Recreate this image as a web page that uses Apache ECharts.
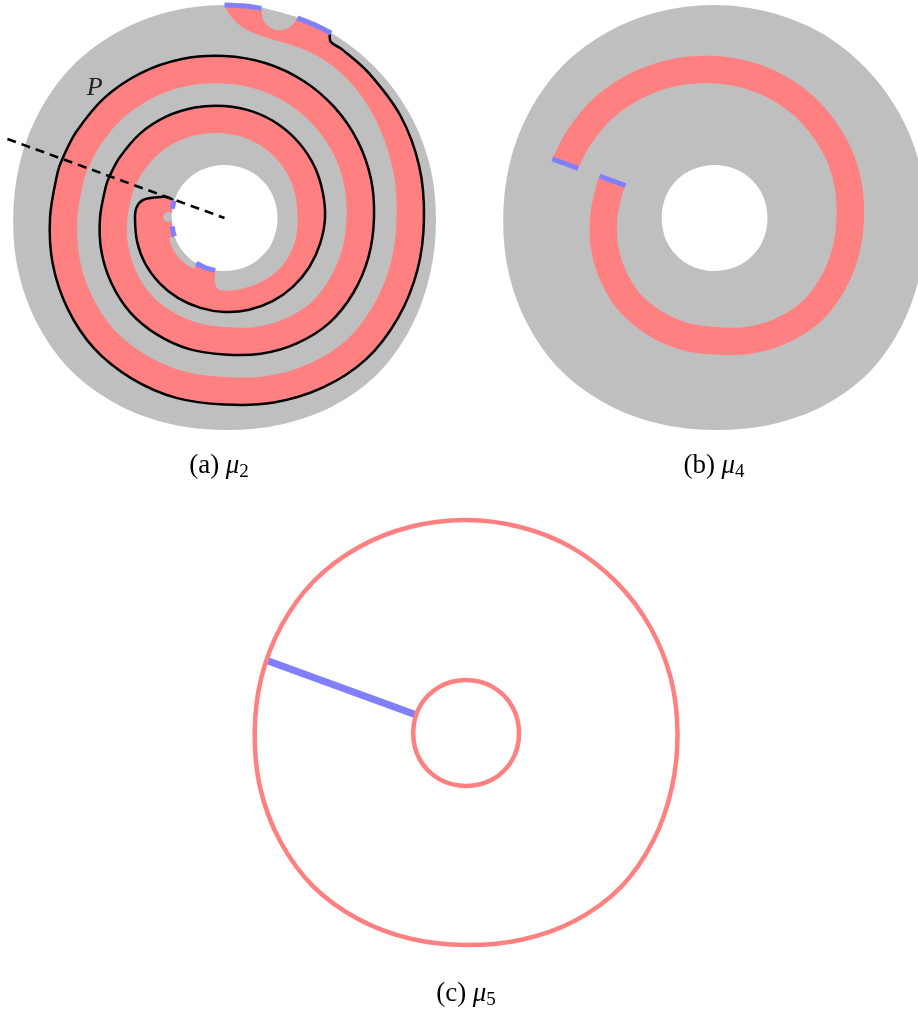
<!DOCTYPE html>
<html>
<head>
<meta charset="utf-8">
<title>Measures on a spiral strip</title>
<script src="https://cdn.jsdelivr.net/npm/echarts@6.0.0/dist/echarts.min.js"></script>
<style>
html, body { margin: 0; padding: 0; background: #ffffff; }
#chart { width: 918px; height: 1010px; }
</style>
</head>
<body>
<div id="chart"></div>
<script>
// Every shape is given as polar readings [angle, radius]; the angle is in degrees,
// measured clockwise on screen from the +x direction. Along the strip the angle is
// unwrapped, so it keeps counting past 360 as the spiral winds inwards.

// Outer rim of the annular domain
const rimAngles = [0, 15, 30, 45, 60, 75, 90, 105, 120, 135, 150, 165, 180, 195, 210, 225, 240, 255, 270, 285, 300, 315, 330, 345];
const rimRadii  = [211.5, 213, 216, 218.5, 217, 214, 212, 213, 215, 216.5, 215, 213, 211.3, 212, 213.5, 215, 214.5, 213.5, 213, 213, 213.5, 213, 212.5, 212];

// Inner hole of the domain
const holeAngles = [0, 30, 60, 90, 120, 150, 180, 210, 240, 270, 300, 330];
const holeRadii  = [53, 53.5, 53.5, 53, 53.3, 53.3, 52.8, 53.3, 53.3, 53, 53.3, 53.3];

// Outer edge of the red strip (the black curve in (a)): hook at the rim, spiral, curl into the hole
const stripEdge = [
  [-60.5, 214], [-59, 206], [-55, 205.5], [-45, 204.5], [-30, 203.5], [-15, 201.5], [0, 199.5],
  [15, 199.8], [30, 200.2], [45, 200], [60, 196], [75, 191], [90, 186.5],
  [105, 186.2], [120, 185.4], [135, 184.4], [150, 181.2], [165, 177.8], [180, 174.5],
  [195, 173], [200, 172.6], [210, 171.5], [225, 169.9], [240, 167.3], [255, 164.6], [270, 162],
  [285, 160.2], [300, 158.2], [315, 156], [330, 153.8], [345, 151.6], [360, 149.5],
  [375, 149.2], [390, 149], [405, 148.3], [420, 144.7], [435, 140.5], [450, 136.5],
  [465, 135.8], [480, 134.7], [495, 133.4], [510, 130.5], [525, 127.5], [540, 124.5],
  [555, 122.8], [560, 122.3], [570, 121.1], [585, 119.4], [600, 117], [615, 114.4], [630, 112],
  [645, 110.1], [660, 108], [675, 105.8], [690, 103.7], [705, 101.6], [720, 100.5],
  [735, 99], [750, 98], [765, 97], [780, 96], [795, 95], [810, 94],
  [825, 93], [840, 92.5], [855, 92], [870, 91.5], [885, 90.5], [900, 89.5],
  [907, 88.5], [912.5, 83.2], [917, 71], [920, 61.6], [919.5, 54.3]
];

// Inner edge where the strip widens out to the rim (from the rim inwards)
const stripStartInner = [
  [-90, 213], [-88.5, 203], [-84.5, 191.5], [-79, 186], [-71.5, 185], [-63, 186.5],
  [-54, 186.5], [-43.5, 184], [-30.5, 179.5], [-15, 175]
];

// Inner edge near the end of the strip, from the hole up the tongue and back along the last turn
const stripEndInner = [
  [820, 55], [818.4, 64.5], [816.2, 70.3], [812, 72.5], [800, 72.8], [785, 73.5],
  [770, 74.5], [755, 75], [740, 74.5], [727, 73.5]
];

// One full turn of the strip shown in (b): spiral angles of its two ends
const turnStart = 200;
const turnEnd = 560;

// Gray features touching the boundary in (a)
const holeGrayStrip = [[121, 59.5], [130, 60], [140, 60.5], [150, 60], [160, 59]];
const holeBump = [181, 56];
const rimNotch = [285, 213];

// Boundary pieces of the strip (blue)
const rimCuts = [
  [[270, 213], [275, 213], [280, 213]],
  [[290, 213], [295, 213.2], [300, 213.5]]
];
const holeCuts = [
  [[190, 53], [194.5, 53], [199, 53.2]],
  [[160, 53.3], [165.5, 53.2], [171, 53]],
  [[100, 53.2], [111, 53.3], [122, 53.3]]
];

// Cutting ray and the slice it leaves in (c)
const cutRay = [[200, 231], [200, 0]];
const sliceC = [[200, 53], [200, 213]];

// Label of the curve in (a)
const labelP = [225, 183.5];

// Captions
const panelTags = ['(a)', '(b)', '(c)'];
const measureIdx = ['2', '4', '5'];

// ---- styling ----
const GRAY = '#bfbfbf', RED = '#ff8080', BLUE = '#8080ff', INK = '#000000';
const STRIP_W = 27.5;     // width of the red strip
const NOTCH_R = 18;       // notch cut into the strip at the rim
const BUMP_R = 5;         // bump on the hole rim
const HIDDEN_R = 44;      // construction radius inside the hole (painted over)
const SERIF = "'Liberation Serif', 'DejaVu Serif', serif";

// ---- geometry helpers ----
function dist(a, b) { return Math.hypot(b[0] - a[0], b[1] - a[1]); }
function fmt(p) { return p[0].toFixed(2) + ',' + p[1].toFixed(2); }
function polarPt(api, a, r) {
  const c = api.coord([r, ((a % 360) + 360) % 360]);
  return [c[0], c[1]];
}
// Smooth cubic segments through the given screen points
function smoothSeg(pts, closed) {
  const n = pts.length;
  const tan = pts.map(function (p, i) {
    let a = pts[i - 1], b = pts[i + 1];
    if (closed) { a = pts[(i - 1 + n) % n]; b = pts[(i + 1) % n]; }
    if (!a) a = p;
    if (!b) b = p;
    const s = dist(a, p) + dist(p, b) || 1;
    return [(b[0] - a[0]) / s, (b[1] - a[1]) / s];
  });
  let d = '';
  const m = closed ? n : n - 1;
  for (let i = 0; i < m; i++) {
    const j = (i + 1) % n;
    const a = pts[i], b = pts[j];
    const k = dist(a, b) / 3;
    d += 'C' + fmt([a[0] + tan[i][0] * k, a[1] + tan[i][1] * k]) + ' ' +
         fmt([b[0] - tan[j][0] * k, b[1] - tan[j][1] * k]) + ' ' + fmt(b);
  }
  return d;
}
function openPath(pts) { return 'M' + fmt(pts[0]) + smoothSeg(pts, false); }
function closedPath(pts) { return 'M' + fmt(pts[0]) + smoothSeg(pts, true) + 'Z'; }
function regionPath(runs) {
  let d = '';
  runs.forEach(function (run, i) {
    d += (i ? 'L' : 'M') + fmt(run[0]);
    if (run.length > 1) d += smoothSeg(run, false);
  });
  return d + 'Z';
}
function zipPolar(angles, radii) { return angles.map(function (a, i) { return [a, radii[i]]; }); }
function edgeAt(s) { return stripEdge.find(function (q) { return q[0] === s; })[1]; }

function fillPath(d, color) { return { type: 'path', shape: { pathData: d }, style: { fill: color, stroke: null } }; }
function strokePath(d, color, w, extra) {
  return { type: 'path', shape: { pathData: d }, style: Object.assign({ fill: 'none', stroke: color, lineWidth: w, lineCap: 'butt', lineJoin: 'round' }, extra || {}) };
}

function mapper(api) {
  return function (list) { return list.map(function (q) { return polarPt(api, q[0], q[1]); }); };
}

// (a) the whole strip on the domain
function renderA(params, api) {
  const map = mapper(api);
  const rim = map(zipPolar(rimAngles, rimRadii));
  const hole = map(zipPolar(holeAngles, holeRadii));
  const regularInner = stripEdge
    .filter(function (q) { return q[0] >= 0 && q[0] <= 720; })
    .map(function (q) { return [q[0], q[1] - STRIP_W]; })
    .reverse();
  const stripRuns = [
    map([[-90, rimRadii[18]], [-75, rimRadii[19]]]),
    map(stripEdge),
    map([[919.5, HIDDEN_R], [885, HIDDEN_R], [850, HIDDEN_R], [820.5, HIDDEN_R]]),
    map(stripEndInner.concat(regularInner, stripStartInner.slice().reverse()))
  ];
  const grayStripRuns = [
    map(holeGrayStrip),
    map([[160, HIDDEN_R], [140, HIDDEN_R], [121, HIDDEN_R]])
  ];
  const bump = polarPt(api, holeBump[0], holeBump[1]);
  const notch = polarPt(api, rimNotch[0], rimNotch[1]);
  const inward = (rimNotch[0] + 180) * Math.PI / 180;
  const lab = polarPt(api, labelP[0], labelP[1]);

  const children = [
    fillPath(closedPath(rim), GRAY),
    fillPath(regionPath(stripRuns), RED),
    fillPath(regionPath(grayStripRuns), GRAY),
    { type: 'circle', shape: { cx: bump[0], cy: bump[1], r: BUMP_R }, style: { fill: GRAY } },
    { type: 'sector', shape: { cx: notch[0], cy: notch[1], r0: 0, r: NOTCH_R, startAngle: inward - Math.PI / 2, endAngle: inward + Math.PI / 2, clockwise: true }, style: { fill: GRAY } },
    fillPath(closedPath(hole), '#ffffff'),
    strokePath(openPath(map(stripEdge)), INK, 2.5)
  ];
  rimCuts.concat(holeCuts).forEach(function (c) {
    children.push(strokePath(openPath(map(c)), BLUE, 5));
  });
  const ray = map(cutRay);
  children.push({ type: 'polyline', shape: { points: ray }, style: { fill: 'none', stroke: INK, lineWidth: 2.6, lineDash: [9, 6] } });
  children.push({ type: 'text', x: lab[0], y: lab[1], style: { text: 'P', fontSize: 26, fontFamily: SERIF, fontStyle: 'italic', fill: '#222', align: 'center', verticalAlign: 'middle' } });
  return { type: 'group', children: children };
}

// (b) one turn of the strip
function renderB(params, api) {
  const map = mapper(api);
  const rim = map(zipPolar(rimAngles, rimRadii));
  const hole = map(zipPolar(holeAngles, holeRadii));
  const turn = stripEdge.filter(function (q) { return q[0] >= turnStart && q[0] <= turnEnd; });
  const inner = turn.map(function (q) { return [q[0], q[1] - STRIP_W]; }).reverse();
  const children = [
    fillPath(closedPath(rim), GRAY),
    fillPath(regionPath([map(turn), map(inner)]), RED),
    fillPath(closedPath(hole), '#ffffff')
  ];
  [turnStart, turnEnd].forEach(function (s) {
    const r = edgeAt(s);
    children.push({ type: 'polyline', shape: { points: map([[s, r], [s, r - STRIP_W]]) }, style: { fill: 'none', stroke: BLUE, lineWidth: 5 } });
  });
  return { type: 'group', children: children };
}

// (c) the boundary of the domain and the slice
function renderC(params, api) {
  const map = mapper(api);
  const rim = map(zipPolar(rimAngles, rimRadii));
  const hole = map(zipPolar(holeAngles, holeRadii));
  return {
    type: 'group',
    children: [
      { type: 'polyline', shape: { points: map(sliceC) }, style: { fill: 'none', stroke: BLUE, lineWidth: 7 } },
      strokePath(closedPath(rim), RED, 4.5),
      strokePath(closedPath(hole), RED, 4.5)
    ]
  };
}

const centers = [[224.5, 218], [714.5, 218], [466, 733]];
const captionPos = [[219, 466], [714, 466], [466, 994]];
const hiddenAxis = { show: false, axisLine: { show: false }, axisTick: { show: false }, axisLabel: { show: false }, splitLine: { show: false }, splitArea: { show: false } };

const chart = echarts.init(document.getElementById('chart'), null, { renderer: 'canvas' });
chart.setOption({
  animation: false,
  backgroundColor: '#ffffff',
  polar: centers.map(function (c) { return { center: c, radius: 240 }; }),
  angleAxis: centers.map(function (c, i) {
    return Object.assign({ polarIndex: i, type: 'value', min: 0, max: 360, startAngle: 0, clockwise: true }, hiddenAxis);
  }),
  radiusAxis: centers.map(function (c, i) {
    return Object.assign({ polarIndex: i, type: 'value', min: 0, max: 240 }, hiddenAxis);
  }),
  series: [renderA, renderB, renderC].map(function (fn, i) {
    return { type: 'custom', coordinateSystem: 'polar', polarIndex: i, silent: true, data: [[0, 0]], renderItem: fn };
  }),
  graphic: panelTags.map(function (tag, i) {
    return {
      type: 'text', x: captionPos[i][0], y: captionPos[i][1], silent: true,
      style: {
        text: '{t|' + tag + '}  {m|μ}{s|' + measureIdx[i] + '}',
        align: 'center', verticalAlign: 'middle',
        rich: {
          t: { fontFamily: SERIF, fontSize: 27, lineHeight: 32, fill: '#000' },
          m: { fontFamily: SERIF, fontStyle: 'italic', fontSize: 27, lineHeight: 32, fill: '#000' },
          s: { fontFamily: SERIF, fontSize: 19, lineHeight: 21, verticalAlign: 'bottom', fill: '#000' }
        }
      }
    };
  })
});
</script>
</body>
</html>
